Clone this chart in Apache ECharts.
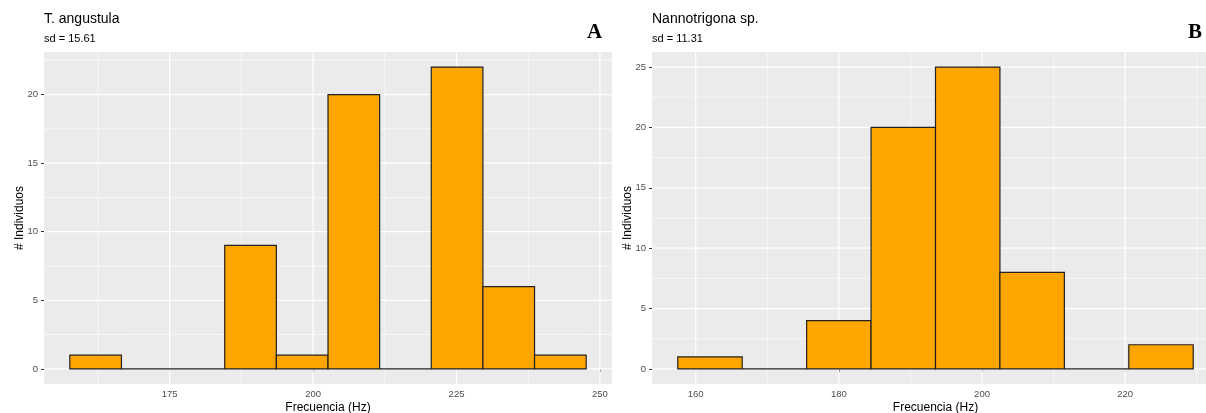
<!DOCTYPE html>
<html>
<head>
<meta charset="utf-8">
<script src="https://cdn.jsdelivr.net/npm/echarts@6/dist/echarts.min.js"></script>
<style>
  html, body { margin: 0; padding: 0; background: #fff; }
  #chart { width: 1206px; height: 413px; }
</style>
</head>
<body>
<div id="chart"></div>
<script>
// panel A - T. angustula
const edgesA = [157.6, 166.6, 175.6, 184.6, 193.6, 202.6, 211.6, 220.6, 229.6, 238.6, 247.6];
const countsA = [1, 0, 0, 9, 1, 20, 0, 22, 6, 1];
const xTicksA = [175, 200, 225, 250];
const xMinorA = [162.5, 187.5, 212.5, 237.5];
const yTicksA = [0, 5, 10, 15, 20];
const yMinorA = [2.5, 7.5, 12.5, 17.5, 22.5];

// panel B - Nannotrigona sp.
const edgesB = [157.5, 166.5, 175.5, 184.5, 193.5, 202.5, 211.5, 220.5, 229.5];
const countsB = [1, 0, 4, 20, 25, 8, 0, 2];
const xTicksB = [160, 180, 200, 220];
const xMinorB = [170, 190, 210, 230];
const yTicksB = [0, 5, 10, 15, 20, 25];
const yMinorB = [2.5, 7.5, 12.5, 17.5, 22.5];

const font = 'Liberation Sans';
const tickColor = '#4D4D4D';

function histData(edges, counts) {
  return counts.map((c, i) => [edges[i], edges[i + 1], c]);
}

function renderBar(params, api) {
  const p0 = api.coord([api.value(0), api.value(2)]);
  const p1 = api.coord([api.value(1), 0]);
  return {
    type: 'rect',
    shape: { x: p0[0], y: p0[1], width: p1[0] - p0[0], height: p1[1] - p0[1] },
    style: { fill: '#FFA500', stroke: '#222222', lineWidth: 1.2 }
  };
}

// white panel grid lines, drawn from the tick arrays through the axes
function gridRenderer(xMajor, xMinor, yMajor, yMinor) {
  return function (params, api) {
    const cs = params.coordSys;
    const kids = [];
    const vline = (v, w) => {
      const x = api.coord([v, 0])[0];
      kids.push({ type: 'line', shape: { x1: x, y1: cs.y, x2: x, y2: cs.y + cs.height },
        style: { stroke: '#FFFFFF', lineWidth: w } });
    };
    const hline = (v, w) => {
      const y = api.coord([0, v])[1];
      kids.push({ type: 'line', shape: { x1: cs.x, y1: y, x2: cs.x + cs.width, y2: y },
        style: { stroke: '#FFFFFF', lineWidth: w } });
    };
    xMinor.forEach(v => vline(v, 0.6));
    yMinor.forEach(v => hline(v, 0.6));
    xMajor.forEach(v => vline(v, 1.2));
    yMajor.forEach(v => hline(v, 1.2));
    return { type: 'group', children: kids };
  };
}

function xAxis(idx, min, max, ticks) {
  return {
    type: 'value', gridIndex: idx, min: min, max: max,
    name: 'Frecuencia (Hz)', nameLocation: 'middle', nameGap: 18, nameMoveOverlap: false,
    nameTextStyle: { color: '#000', fontSize: 12, fontFamily: font, verticalAlign: 'top' },
    splitLine: { show: false },
    axisLine: { show: false },
    axisTick: { show: true, length: 3, customValues: ticks, lineStyle: { color: '#333333' } },
    axisLabel: { customValues: ticks, color: tickColor, fontSize: 9.5, fontFamily: font, margin: 5 }
  };
}

function yAxis(idx, min, max, ticks) {
  return {
    type: 'value', gridIndex: idx, min: min, max: max,
    name: '# Individuos', nameLocation: 'middle', nameGap: 18, nameRotate: 90, nameMoveOverlap: false,
    nameTextStyle: { color: '#000', fontSize: 12, fontFamily: font },
    splitLine: { show: false },
    axisLine: { show: false },
    axisTick: { show: true, length: 3, customValues: ticks, lineStyle: { color: '#333333' } },
    axisLabel: { customValues: ticks, color: tickColor, fontSize: 9.5, fontFamily: font, margin: 6 }
  };
}

const chart = echarts.init(document.getElementById('chart'));
chart.setOption({
  animation: false,
  backgroundColor: '#FFFFFF',
  title: [
    { text: 'T. angustula', left: 44, top: 12, padding: 0, textStyle: { fontSize: 14, fontWeight: 'normal', color: '#000', fontFamily: font } },
    { text: 'sd = 15.61', left: 44, top: 33, padding: 0, textStyle: { fontSize: 11, fontWeight: 'normal', color: '#000', fontFamily: font } },
    { text: 'A', left: 587, top: 22, padding: 0, textStyle: { fontSize: 21, fontWeight: 'bold', color: '#000', fontFamily: 'Liberation Serif' } },
    { text: 'Nannotrigona sp.', left: 652, top: 12, padding: 0, textStyle: { fontSize: 14, fontWeight: 'normal', color: '#000', fontFamily: font } },
    { text: 'sd = 11.31', left: 652, top: 33, padding: 0, textStyle: { fontSize: 11, fontWeight: 'normal', color: '#000', fontFamily: font } },
    { text: 'B', left: 1188, top: 22, padding: 0, textStyle: { fontSize: 21, fontWeight: 'bold', color: '#000', fontFamily: 'Liberation Serif' } }
  ],
  grid: [
    { left: 44, right: 594, top: 52, bottom: 29, outerBoundsMode: 'none', show: true, backgroundColor: '#EBEBEB', borderWidth: 0 },
    { left: 652, right: -13, top: 52, bottom: 29, outerBoundsMode: 'none', show: true, backgroundColor: '#EBEBEB', borderWidth: 0 }
  ],
  xAxis: [
    xAxis(0, 153.1, 252.1, xTicksA),
    xAxis(1, 153.9, 233.1, xTicksB)
  ],
  yAxis: [
    yAxis(0, -1.1, 23.1, yTicksA),
    yAxis(1, -1.25, 26.25, yTicksB)
  ],
  series: [
    { type: 'custom', xAxisIndex: 0, yAxisIndex: 0, z: 1, silent: true, data: [0],
      renderItem: gridRenderer(xTicksA, xMinorA, yTicksA, yMinorA) },
    { type: 'custom', name: 'T. angustula', xAxisIndex: 0, yAxisIndex: 0, z: 5,
      data: histData(edgesA, countsA), renderItem: renderBar },
    { type: 'custom', xAxisIndex: 1, yAxisIndex: 1, z: 1, silent: true, data: [0],
      renderItem: gridRenderer(xTicksB, xMinorB, yTicksB, yMinorB) },
    { type: 'custom', name: 'Nannotrigona sp.', xAxisIndex: 1, yAxisIndex: 1, z: 5,
      data: histData(edgesB, countsB), renderItem: renderBar }
  ]
});
</script>
</body>
</html>
